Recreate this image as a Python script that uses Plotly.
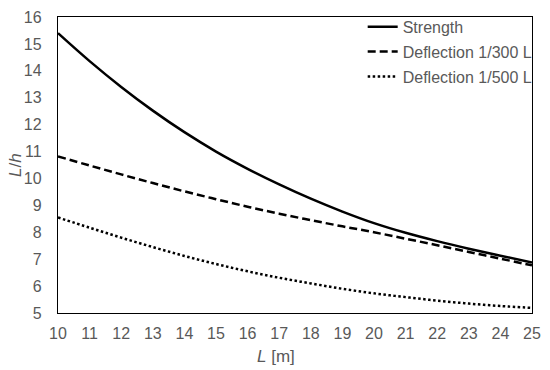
import plotly.graph_objects as go

L = [10, 11, 12, 13, 14, 15, 16, 17, 18, 19, 20, 21, 22, 23, 24, 25]
strength = [15.4, 14.36, 13.4, 12.52, 11.72, 11.0, 10.36, 9.78, 9.25, 8.77, 8.34, 7.98, 7.67, 7.39, 7.13, 6.88]
defl_300 = [10.82, 10.48, 10.15, 9.83, 9.52, 9.23, 8.95, 8.69, 8.45, 8.22, 8.0, 7.76, 7.52, 7.27, 7.02, 6.77]
defl_500 = [8.55, 8.17, 7.8, 7.45, 7.12, 6.82, 6.55, 6.31, 6.1, 5.9, 5.73, 5.59, 5.46, 5.35, 5.26, 5.19]

names = ["Strength", "Deflection 1/300 L", "Deflection 1/500 L"]
series = [strength, defl_300, defl_500]
dashes = ["solid", "8px,4px", "2.5px,2.5px"]

fig = go.Figure()
for i, (n, s, d) in enumerate(zip(names, series, dashes)):
    fig.add_trace(go.Scatter(x=L, y=s, name=n, mode="lines", legendgroup=f"g{i}",
                             line=dict(color="black", width=2.5, dash=d, shape="spline")))

font = "Liberation Sans, Arial, sans-serif"
grey = "#595959"
axis_common = dict(showgrid=False, zeroline=False, showline=True, linecolor="black",
                   linewidth=1.3, mirror=True, ticks="",
                   tickfont=dict(family=font, size=16, color=grey))
fig.update_layout(
    width=550, height=370,
    margin=dict(l=58, r=13, t=9, b=57),
    paper_bgcolor="white", plot_bgcolor="white",
    font=dict(family=font, color=grey),
    xaxis=dict(range=[10, 25], tickmode="linear", tick0=10, dtick=1,
               ticklabelstandoff=6, **axis_common),
    yaxis=dict(range=[5, 16], tickmode="linear", tick0=5, dtick=1,
               ticklabelstandoff=12, **axis_common),
    legend=dict(x=1.012, y=1.024, xanchor="right", yanchor="top", bgcolor="rgba(0,0,0,0)",
                font=dict(family=font, size=16, color=grey),
                tracegroupgap=1, itemwidth=30),
    showlegend=True,
    annotations=[
        dict(text="<i>L</i> [m]", xref="paper", yref="paper", x=0.459, y=0,
             yshift=-43, xanchor="center", yanchor="middle", showarrow=False,
             font=dict(family=font, size=17, color=grey)),
        dict(text="<i>L</i>/<i>h</i>", xref="paper", yref="paper", x=0, y=0.5,
             xshift=-43, xanchor="center", yanchor="middle", textangle=-90,
             showarrow=False, font=dict(family=font, size=17, color=grey)),
    ],
)

fig.write_html("out.html", config={"displayModeBar": False},
               post_script="document.body.style.margin='0px';")
